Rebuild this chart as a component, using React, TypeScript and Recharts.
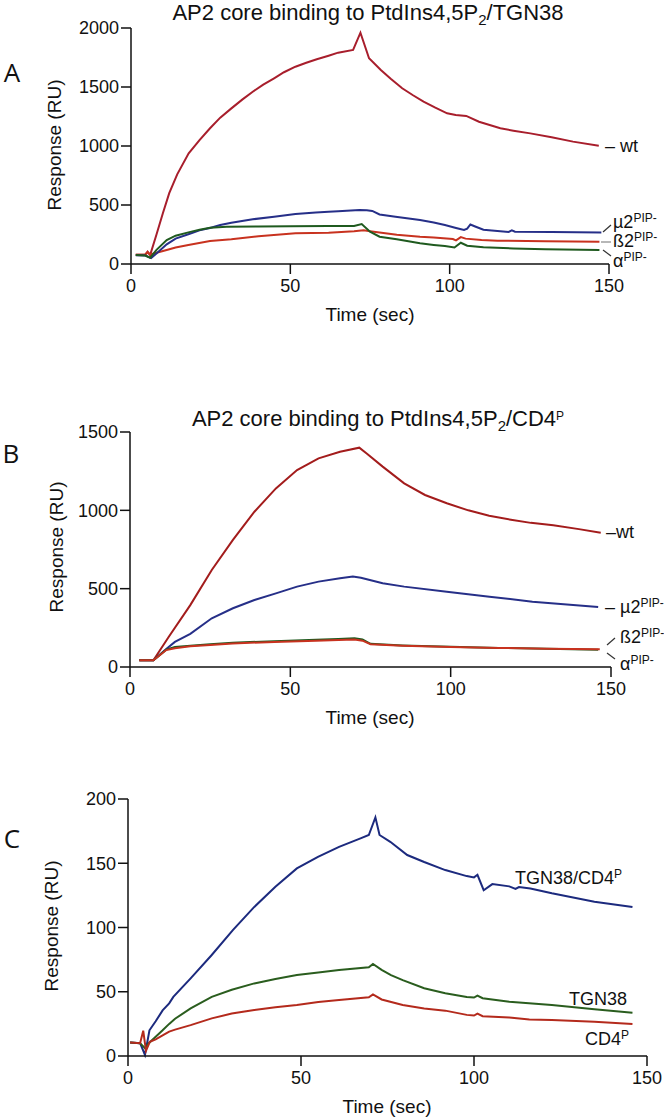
import React from 'react';
import { LineChart, Line, XAxis, YAxis } from 'recharts';

const FONT = '"Liberation Sans", Arial, Helvetica, sans-serif';
const LETTER_FONT = '"Open Sans", "Noto Sans", sans-serif';

const X_TICKS = [0, 50, 100, 150];
const A_Y_TICKS = [0, 500, 1000, 1500, 2000];
const B_Y_TICKS = [0, 500, 1000, 1500];
const C_Y_TICKS = [0, 50, 100, 150, 200];

// panel A: [time (s), response (RU)]
const A_WT = [
  [1.5, 78], [4.5, 80], [5.2, 105], [6, 75], [8, 250], [10, 430], [12, 600], [14.5, 760],
  [18.1, 938], [21.5, 1050], [24.8, 1150], [28, 1240], [31.5, 1319], [35, 1395], [38.2, 1460],
  [41.5, 1520], [44.9, 1574], [48, 1625], [51.6, 1672], [55, 1705], [58.3, 1735], [62, 1765],
  [65, 1791], [69.7, 1814], [72, 1960], [74.7, 1743], [78.4, 1644], [81.5, 1570], [85.1, 1489],
  [88.5, 1430], [91.8, 1376], [95.5, 1325], [99.2, 1277], [101.9, 1263], [105.2, 1255],
  [109.2, 1206], [115.9, 1150], [120, 1130], [125.3, 1107], [132, 1074], [138.7, 1037], [146.8, 1003],
];
const A_MU2 = [
  [1.5, 75], [4.5, 72], [6.3, 50], [8, 90], [11.2, 167], [14, 215], [18, 252], [21.5, 285],
  [24.8, 305], [28, 330], [31.5, 350], [38.2, 379], [44.9, 401], [51.6, 424], [58, 437], [62, 443],
  [65, 447], [71.7, 458], [74, 456], [75.7, 450], [78, 420], [83, 401], [90.7, 372], [95, 352],
  [98.5, 330], [102, 305], [104.5, 288], [105.5, 300], [106.5, 335], [108, 318], [110.6, 290],
  [115, 280], [118.5, 272], [119.5, 285], [120.5, 273], [132, 271], [147.6, 268],
];
const A_BETA2 = [
  [1.5, 78], [4.5, 80], [5.2, 100], [6, 80], [8, 95], [11.2, 119], [14, 140], [18, 161],
  [24.8, 195], [31.5, 209], [40, 235], [51.6, 260], [62, 265], [70, 278], [73, 285], [75, 278],
  [83.4, 248], [90.7, 231], [95, 225], [101, 212], [102, 200], [103.5, 228], [105, 215],
  [110, 203], [115, 198], [130, 192], [147, 189],
];
const A_ALPHA = [
  [1.5, 76], [4.5, 72], [6, 53], [8, 120], [11.2, 203], [14, 240], [18, 268], [21.5, 290],
  [24.8, 308], [30, 316], [40, 318], [50, 320], [62, 322], [70, 322], [72.4, 339], [75, 274],
  [78, 231], [83.4, 209], [90.7, 175], [95, 162], [98.5, 152], [101.5, 140], [103.5, 180],
  [105.5, 155], [110.6, 141], [120, 132], [130, 124], [147, 119],
];

// panel B
const B_WT = [
  [2.9, 43], [7.3, 43], [12.1, 193], [18.8, 395], [25.5, 619], [32.1, 811], [38.8, 991],
  [45.5, 1140], [52.1, 1257], [58.8, 1332], [65.5, 1374], [71.5, 1400], [74, 1360], [78.8, 1279],
  [85.5, 1172], [92, 1098], [98.8, 1045], [105.5, 1000], [112, 965], [118.8, 940], [125, 920],
  [132, 905], [140, 880], [146.8, 857],
];
const B_MU2 = [
  [2.9, 43], [7.3, 43], [11.3, 115], [14, 160], [18.8, 212], [25.5, 311], [32.1, 375],
  [38.8, 428], [45.5, 470], [52.1, 513], [58.8, 545], [65.5, 566], [69.5, 577], [72, 570],
  [78.8, 534], [85.5, 513], [98.8, 481], [112.1, 449], [125.5, 417], [146, 383],
];
const B_BETA2 = [
  [2.9, 43], [7.3, 43], [11.3, 108], [14, 120], [18.8, 132], [25, 140], [32, 150], [45, 160],
  [58, 168], [65, 172], [70, 176], [72.5, 168], [75, 145], [85, 136], [100, 128], [115, 122],
  [130, 117], [146.5, 113],
];
const B_ALPHA = [
  [2.9, 43], [7.3, 43], [11.3, 111], [14, 128], [18.8, 135], [25, 145], [32, 155], [45, 165],
  [58, 174], [65, 178], [70, 183], [72.5, 175], [75, 148], [85, 138], [100, 129], [115, 122],
  [130, 116], [146, 110],
];

// panel C
const C_BOTH = [
  [0.6, 10.5], [3.5, 10], [4.9, 0.8], [6.2, 20], [8, 27], [10, 35.5], [11.9, 41], [13.1, 46],
  [18.1, 60.4], [24.2, 78.6], [30.3, 98], [36.5, 116], [42.6, 131.7], [48.8, 146], [54.9, 155],
  [61, 162.8], [67.2, 169.4], [69.6, 172], [71.5, 185.7], [72.7, 172], [75.8, 166.7],
  [80.7, 156.4], [85.6, 151], [91.7, 144.7], [97.9, 140], [100, 139], [101, 141], [102.8, 129],
  [105.3, 133.8], [110.2, 132], [112, 130], [113, 131.5], [116.3, 130.4], [122.5, 126.6],
  [134.8, 120], [145.8, 116],
];
const C_TGN38 = [
  [0.6, 10.5], [3.5, 10], [4.9, 6], [6, 10], [8, 15], [10, 20], [11.9, 25], [13.6, 29],
  [18.1, 37], [24.2, 46], [30, 51.5], [36.5, 56.5], [42.6, 60], [48.8, 63], [55, 65], [61, 67],
  [69.6, 69], [70.8, 71.6], [73.3, 67], [76, 63], [79.4, 59], [85.6, 52.7], [91.7, 48.8],
  [97.9, 46], [100, 45.5], [101, 47], [102.5, 45], [110.2, 42.3], [122.5, 39.7], [134.8, 36.3],
  [145.8, 33.7],
];
const C_CD4P = [
  [0.6, 10.5], [3.5, 10], [4.4, 19.7], [5.2, 4], [6.3, 11], [8, 13], [10, 16], [11.9, 19],
  [13.6, 20.5], [18.1, 24], [24.2, 29.3], [30, 33], [36.5, 35.8], [42.6, 38], [48.8, 39.7],
  [55, 42], [61, 43.6], [69.6, 45.7], [70.8, 48], [73.3, 44], [79.4, 39.7], [85.6, 37],
  [91.7, 35.3], [97.9, 32], [100, 31.5], [101, 33], [102.5, 31], [110.2, 30], [116, 28.5],
  [122.5, 28], [134.8, 26.7], [145.8, 24.9],
];

const pts = (arr: number[][]) => arr.map(([t, v]) => ({ t, v }));

type Series = { name: string; data: number[][]; color: string };

function Panel(props: {
  top: number;
  height: number;
  margin: { top: number; right: number; bottom: number; left: number };
  yMax: number;
  yTicks: number[];
  series: Series[];
}) {
  const { top, height, margin, yMax, yTicks, series } = props;
  const tickStyle = { fill: '#111', fontSize: 18, fontFamily: FONT };
  const line = { stroke: '#111', strokeWidth: 1.5 };
  return (
    <div style={{ position: 'absolute', left: 0, top }}>
      <LineChart width={664} height={height} margin={margin}>
        <XAxis
          type="number"
          dataKey="t"
          domain={[0, 150]}
          ticks={X_TICKS}
          height={30}
          tickSize={10}
          tickMargin={5}
          axisLine={line}
          tickLine={line}
          tick={tickStyle}
        />
        <YAxis
          type="number"
          domain={[0, yMax]}
          ticks={yTicks}
          width={60}
          tickSize={10}
          tickMargin={2}
          axisLine={line}
          tickLine={line}
          tick={tickStyle}
        />
        {series.map((s) => (
          <Line
            key={s.name}
            name={s.name}
            data={pts(s.data)}
            dataKey="v"
            type="linear"
            stroke={s.color}
            strokeWidth={2}
            dot={false}
            isAnimationActive={false}
          />
        ))}
      </LineChart>
    </div>
  );
}

const Txt = (p: { x: number; y: number; size?: number; center?: boolean; rotate?: boolean; font?: string; children: React.ReactNode }) => (
  <div
    style={{
      position: 'absolute',
      left: p.x,
      top: p.y,
      fontFamily: p.font || FONT,
      fontSize: p.size || 18,
      color: '#111',
      whiteSpace: 'nowrap',
      lineHeight: 1,
      transform: `translate(${p.center ? '-50%' : '0'}, -50%)${p.rotate ? ' rotate(-90deg)' : ''}`,
      transformOrigin: p.rotate ? 'center' : undefined,
    }}
  >
    {p.children}
  </div>
);

const Sup = ({ children }: { children: React.ReactNode }) => (
  <span style={{ fontSize: 12, position: 'relative', top: -6 }}>{children}</span>
);
const Sub = ({ children }: { children: React.ReactNode }) => (
  <span style={{ fontSize: 15, position: 'relative', top: 5 }}>{children}</span>
);

export default function App() {
  return (
    <div style={{ position: 'absolute', left: 0, top: 0, width: 664, height: 1120, background: '#fff', overflow: 'hidden' }}>
      <Panel
        top={0}
        height={320}
        margin={{ top: 28, right: 55, bottom: 26, left: 71 }}
        yMax={2000}
        yTicks={A_Y_TICKS}
        series={[
          { name: 'wt', data: A_WT, color: '#a81e2c' },
          { name: 'beta2', data: A_BETA2, color: '#c8321f' },
          { name: 'mu2', data: A_MU2, color: '#262f88' },
          { name: 'alpha', data: A_ALPHA, color: '#1f5a1f' },
        ]}
      />
      <Panel
        top={380}
        height={330}
        margin={{ top: 52, right: 53, bottom: 13, left: 70 }}
        yMax={1500}
        yTicks={B_Y_TICKS}
        series={[
          { name: 'wt', data: B_WT, color: '#a31c1c' },
          { name: 'mu2', data: B_MU2, color: '#262f88' },
          { name: 'alpha', data: B_ALPHA, color: '#1f5a1f' },
          { name: 'beta2', data: B_BETA2, color: '#c8321f' },
        ]}
      />
      <Panel
        top={770}
        height={350}
        margin={{ top: 29, right: 17, bottom: 34, left: 68 }}
        yMax={200}
        yTicks={C_Y_TICKS}
        series={[
          { name: 'TGN38/CD4P', data: C_BOTH, color: '#1c2a7e' },
          { name: 'TGN38', data: C_TGN38, color: '#2a5d1e' },
          { name: 'CD4P', data: C_CD4P, color: '#b42a1c' },
        ]}
      />

      {/* titles */}
      <Txt x={368} y={13} size={22} center>AP2 core binding to PtdIns4,5P<Sub>2</Sub>/TGN38</Txt>
      <Txt x={378} y={419} size={22} center>AP2 core binding to PtdIns4,5P<Sub>2</Sub>/CD4<Sup>P</Sup></Txt>

      {/* panel letters */}
      <Txt x={12} y={72} size={26} center font={LETTER_FONT}>A</Txt>
      <Txt x={11} y={453} size={26} center font={LETTER_FONT}>B</Txt>
      <Txt x={12} y={838} size={26} center font={LETTER_FONT}>C</Txt>

      {/* axis titles */}
      <Txt x={54} y={145} size={19} center rotate>Response (RU)</Txt>
      <Txt x={56} y={547} size={19} center rotate>Response (RU)</Txt>
      <Txt x={51} y={926} size={19} center rotate>Response (RU)</Txt>
      <Txt x={370} y={314} size={19} center>Time (sec)</Txt>
      <Txt x={370} y={717} size={19} center>Time (sec)</Txt>
      <Txt x={387} y={1106} size={19} center>Time (sec)</Txt>

      {/* series labels A */}
      <Txt x={605} y={146}>– wt</Txt>
      <Txt x={613} y={222}>µ2<Sup>PIP-</Sup></Txt>
      <Txt x={613} y={241}>ß2<Sup>PIP-</Sup></Txt>
      <Txt x={613} y={261}>α<Sup>PIP-</Sup></Txt>

      {/* series labels B */}
      <Txt x={606} y={532}>–wt</Txt>
      <Txt x={605} y={607}>– µ2<Sup>PIP-</Sup></Txt>
      <Txt x={620} y={637}>ß2<Sup>PIP-</Sup></Txt>
      <Txt x={620} y={664}>α<Sup>PIP-</Sup></Txt>

      {/* series labels C */}
      <Txt x={515} y={878}>TGN38/CD4<Sup>P</Sup></Txt>
      <Txt x={569} y={999}>TGN38</Txt>
      <Txt x={585} y={1039}>CD4<Sup>P</Sup></Txt>

      {/* label connectors */}
      <svg width={664} height={1120} style={{ position: 'absolute', left: 0, top: 0, pointerEvents: 'none' }}>
        <g stroke="#333" strokeWidth={1.2}>
          <line x1={603} y1={232} x2={611} y2={225} />
          <line x1={601} y1={242} x2={611} y2={242} stroke="#888" />
          <line x1={603} y1={250} x2={611} y2={256} />
          <line x1={607} y1={645} x2={615} y2={638} />
          <line x1={607} y1={653} x2={615} y2={659} />
        </g>
      </svg>
    </div>
  );
}
